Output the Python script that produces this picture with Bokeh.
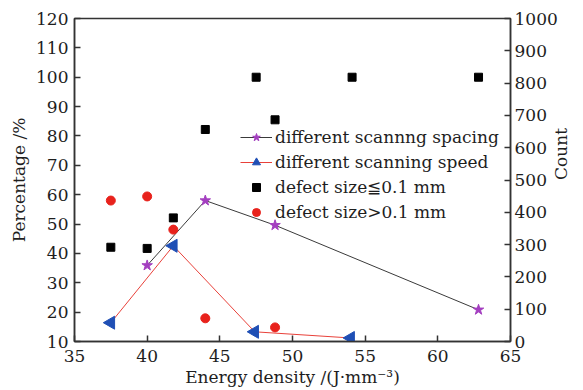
import math
from bokeh.plotting import figure
from bokeh.models import Range1d, LinearAxis, Legend, LegendItem, FixedTicker, ColumnDataSource
from bokeh.embed import file_html
from bokeh.resources import INLINE

# ---- data ----
spacing_x = [40.0, 44.0, 48.8, 62.8]
spacing_y = [35.9, 58.0, 49.6, 20.8]
speed_x = [37.5, 41.8, 47.4, 54.0]
speed_y = [16.4, 42.6, 13.3, 11.2]
small_x = [37.5, 40.0, 41.8, 44.0, 47.5, 48.8, 54.1, 62.8]
small_y = [42.1, 41.7, 52.1, 82.2, 100.0, 85.5, 100.0, 100.0]
large_x = [37.5, 40.0, 41.8, 44.0, 48.8]
large_y = [58.0, 59.4, 48.1, 17.9, 14.8]
x_ticks = [35, 40, 45, 50, 55, 60, 65]
y_ticks = [10, 20, 30, 40, 50, 60, 70, 80, 90, 100, 110, 120]
count_ticks = [0, 100, 200, 300, 400, 500, 600, 700, 800, 900, 1000]

FONT = "DejaVu Serif"
FS = "17px"
TXT = "#1e1e1e"

p = figure(width=583, height=390, x_range=Range1d(35, 65), y_range=Range1d(10, 120),
           output_backend="svg", toolbar_location=None,
           min_border_left=74, min_border_right=60, min_border_top=18, min_border_bottom=49)
p.extra_y_ranges = {"count": Range1d(0, 1000)}
p.xgrid.visible = False
p.ygrid.visible = False
p.outline_line_color = "#333333"
p.outline_line_width = 1.5
p.background_fill_color = "white"
p.border_fill_color = "white"

def style_axis(ax, ticks):
    ax.ticker = FixedTicker(ticks=ticks)
    ax.major_tick_in = 6
    ax.major_tick_out = 0
    ax.minor_tick_in = 0
    ax.minor_tick_out = 0
    ax.axis_line_color = "#333333"
    ax.axis_line_width = 1.5
    ax.major_tick_line_color = "#333333"
    ax.major_tick_line_width = 1.5
    ax.major_label_text_font = FONT
    ax.major_label_text_font_size = FS
    ax.major_label_text_color = TXT
    ax.axis_label_text_font = FONT
    ax.axis_label_text_font_size = FS
    ax.axis_label_text_font_style = "normal"
    ax.axis_label_text_color = TXT

style_axis(p.xaxis[0], x_ticks)
style_axis(p.yaxis[0], y_ticks)
p.xaxis[0].axis_label = "Energy density /(J\u00b7mm\u207b\u00b3)"
p.yaxis[0].axis_label = "Percentage /%"
p.xaxis[0].major_label_standoff = 8
p.yaxis[0].major_label_standoff = 6
p.xaxis[0].axis_label_standoff = 2
p.yaxis[0].axis_label_standoff = 4

right = LinearAxis(y_range_name="count", axis_label="Count")
style_axis(right, count_ticks)
right.major_label_standoff = 4
right.axis_label_standoff = 0
right.axis_label_orientation = math.pi / 2
p.add_layout(right, "right")

grey_line = p.line(spacing_x, spacing_y, line_color="#3a3a3a", line_width=1)
stars = p.scatter(spacing_x, spacing_y, marker="star", size=11, fill_color="#a43fc0", line_color="#a43fc0")
red_line = p.line(speed_x, speed_y, line_color="#e8413a", line_width=1)
speed_src = ColumnDataSource(dict(x=speed_x, y=speed_y))
tris = p.scatter("x", "y", source=speed_src, marker="triangle", size=13, angle=90, angle_units="deg",
                 fill_color="#1f4fb5", line_color="#1f4fb5")
squares = p.scatter(small_x, small_y, marker="square", size=8, fill_color="black", line_color="black")
circles = p.scatter(large_x, large_y, marker="circle", size=9, fill_color="#e8221c", line_color="#e8221c")

legend = Legend(items=[
    LegendItem(label="different scannng spacing", renderers=[grey_line, stars]),
    LegendItem(label="different scanning speed", renderers=[red_line, tris]),
    LegendItem(label="defect size\u22660.1 mm", renderers=[squares]),
    LegendItem(label="defect size>0.1 mm", renderers=[circles]),
], location=(166, 119), padding=0, margin=0, spacing=5,
    glyph_width=32, glyph_height=20, label_height=20, label_standoff=3,
    background_fill_alpha=0, border_line_alpha=0,
    label_text_font=FONT, label_text_font_size=FS, label_text_color=TXT)
p.add_layout(legend, "center")

open("out.html", "w").write(file_html(p, INLINE))
